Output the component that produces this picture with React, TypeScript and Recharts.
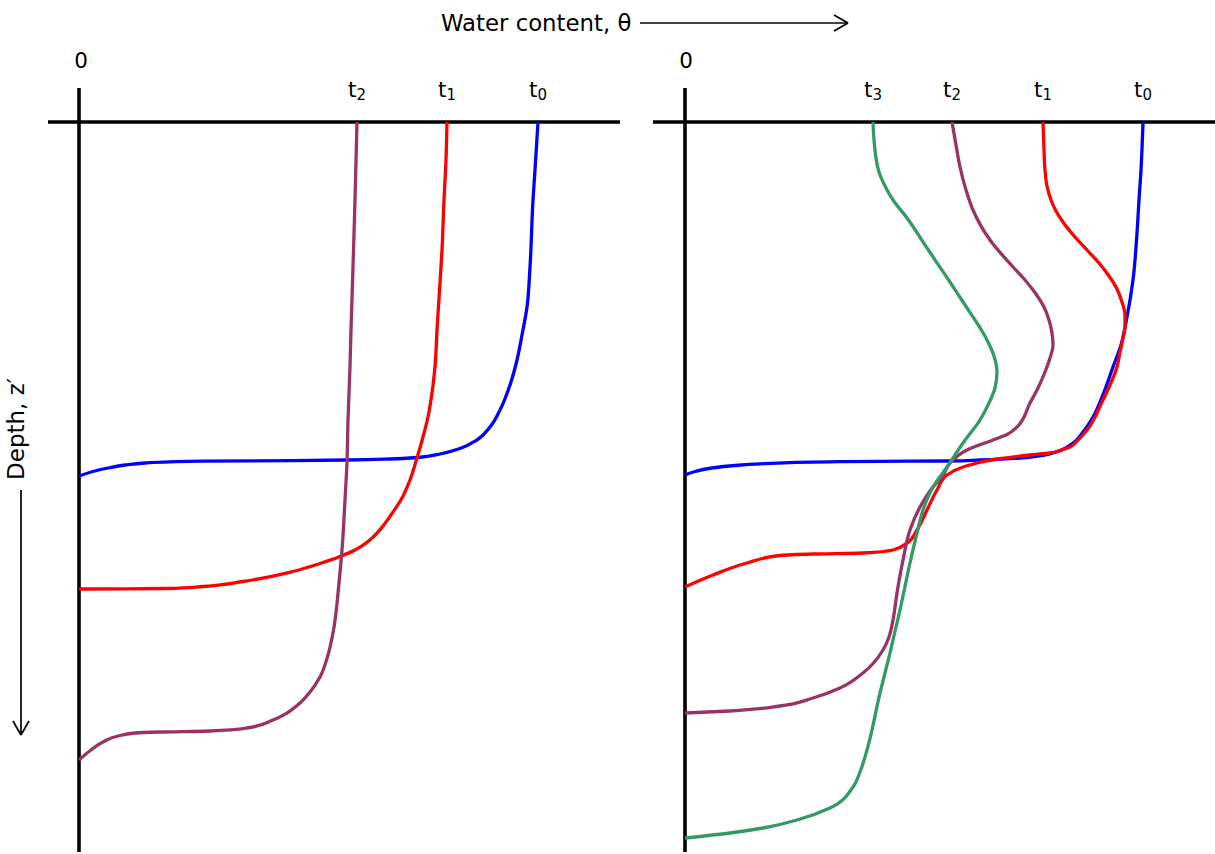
import React from 'react';
import { LineChart, Line, XAxis, YAxis, ReferenceLine, ReferenceDot } from 'recharts';

// water content theta (fraction) vs depth z (cm)
const leftT0 = [
  { theta: 0.459, z: 0 }, { theta: 0.456, z: 4.8 }, { theta: 0.454, z: 7.8 }, { theta: 0.451, z: 14.5 },
  { theta: 0.448, z: 18.5 }, { theta: 0.443, z: 21.3 }, { theta: 0.438, z: 23.8 }, { theta: 0.431, z: 26.3 },
  { theta: 0.421, z: 28.8 }, { theta: 0.411, z: 30.5 }, { theta: 0.398, z: 31.8 }, { theta: 0.381, z: 32.65 },
  { theta: 0.361, z: 33.2 }, { theta: 0.338, z: 33.55 }, { theta: 0.311, z: 33.7 }, { theta: 0.268, z: 33.8 },
  { theta: 0.214, z: 33.86 }, { theta: 0.124, z: 33.92 }, { theta: 0.091, z: 33.98 }, { theta: 0.066, z: 34.1 },
  { theta: 0.046, z: 34.3 }, { theta: 0.029, z: 34.6 }, { theta: 0.014, z: 34.95 }, { theta: 0.0, z: 35.4 },
];
const leftT1 = [
  { theta: 0.368, z: 0 }, { theta: 0.367, z: 3.8 }, { theta: 0.365, z: 7.8 }, { theta: 0.363, z: 12.8 },
  { theta: 0.361, z: 16.1 }, { theta: 0.358, z: 20.8 }, { theta: 0.356, z: 24.5 }, { theta: 0.352, z: 27.8 },
  { theta: 0.349, z: 29.5 }, { theta: 0.344, z: 31.5 }, { theta: 0.338, z: 33.6 }, { theta: 0.331, z: 35.8 },
  { theta: 0.323, z: 37.6 }, { theta: 0.314, z: 39.0 }, { theta: 0.304, z: 40.4 }, { theta: 0.292, z: 41.7 },
  { theta: 0.277, z: 42.75 }, { theta: 0.261, z: 43.45 }, { theta: 0.241, z: 44.15 }, { theta: 0.214, z: 44.95 },
  { theta: 0.164, z: 45.95 }, { theta: 0.124, z: 46.45 }, { theta: 0.088, z: 46.65 }, { theta: 0.048, z: 46.68 },
  { theta: 0.0, z: 46.7 },
];
const leftT2 = [
  { theta: 0.278, z: 0 }, { theta: 0.276, z: 7.8 }, { theta: 0.274, z: 14.5 }, { theta: 0.272, z: 20.8 },
  { theta: 0.271, z: 24.5 }, { theta: 0.269, z: 29.8 }, { theta: 0.268, z: 34.0 }, { theta: 0.266, z: 37.8 },
  { theta: 0.263, z: 42.8 }, { theta: 0.26, z: 46.1 }, { theta: 0.254, z: 51.1 }, { theta: 0.249, z: 53.3 },
  { theta: 0.241, z: 55.5 }, { theta: 0.231, z: 57.0 }, { theta: 0.221, z: 58.1 }, { theta: 0.208, z: 59.1 },
  { theta: 0.194, z: 59.8 }, { theta: 0.168, z: 60.6 }, { theta: 0.131, z: 60.9 }, { theta: 0.081, z: 61.0 },
  { theta: 0.056, z: 61.1 }, { theta: 0.039, z: 61.4 }, { theta: 0.024, z: 62.0 }, { theta: 0.012, z: 62.8 },
  { theta: 0.0, z: 63.8 },
];
const rightT0 = [
  { theta: 0.458, z: 0 }, { theta: 0.456, z: 4.8 }, { theta: 0.454, z: 7.8 }, { theta: 0.452, z: 11.1 },
  { theta: 0.448, z: 15.8 }, { theta: 0.442, z: 19.5 }, { theta: 0.436, z: 22.3 }, { theta: 0.428, z: 24.5 },
  { theta: 0.419, z: 27.0 }, { theta: 0.408, z: 29.5 }, { theta: 0.398, z: 31.0 }, { theta: 0.388, z: 32.1 },
  { theta: 0.368, z: 33.1 }, { theta: 0.335, z: 33.6 }, { theta: 0.295, z: 33.8 }, { theta: 0.262, z: 33.9 },
  { theta: 0.195, z: 33.93 }, { theta: 0.145, z: 33.98 }, { theta: 0.105, z: 34.06 }, { theta: 0.075, z: 34.18 },
  { theta: 0.05, z: 34.35 }, { theta: 0.027, z: 34.6 }, { theta: 0.01, z: 34.95 }, { theta: 0.0, z: 35.3 },
];
const rightT1 = [
  { theta: 0.358, z: 0 }, { theta: 0.359, z: 2.8 }, { theta: 0.36, z: 4.8 }, { theta: 0.362, z: 6.4 },
  { theta: 0.366, z: 7.8 }, { theta: 0.371, z: 8.9 }, { theta: 0.378, z: 10.0 }, { theta: 0.39, z: 11.5 },
  { theta: 0.402, z: 12.8 }, { theta: 0.414, z: 14.1 }, { theta: 0.424, z: 15.4 }, { theta: 0.432, z: 16.7 },
  { theta: 0.437, z: 18.0 }, { theta: 0.44, z: 19.3 }, { theta: 0.44, z: 20.5 }, { theta: 0.438, z: 21.6 },
  { theta: 0.435, z: 23.0 }, { theta: 0.432, z: 24.5 }, { theta: 0.425, z: 26.3 }, { theta: 0.418, z: 27.8 },
  { theta: 0.402, z: 30.8 }, { theta: 0.393, z: 31.8 }, { theta: 0.385, z: 32.5 }, { theta: 0.375, z: 32.85 },
  { theta: 0.365, z: 33.1 }, { theta: 0.345, z: 33.3 }, { theta: 0.312, z: 33.7 }, { theta: 0.278, z: 34.5 },
  { theta: 0.262, z: 35.3 }, { theta: 0.252, z: 36.8 }, { theta: 0.242, z: 38.8 }, { theta: 0.232, z: 40.8 },
  { theta: 0.222, z: 42.1 }, { theta: 0.208, z: 42.8 }, { theta: 0.178, z: 43.1 }, { theta: 0.128, z: 43.2 },
  { theta: 0.095, z: 43.35 }, { theta: 0.062, z: 44.1 }, { theta: 0.028, z: 45.3 }, { theta: 0.0, z: 46.5 },
];
const rightT2 = [
  { theta: 0.267, z: 0 }, { theta: 0.271, z: 2.3 }, { theta: 0.275, z: 4.5 }, { theta: 0.281, z: 6.8 },
  { theta: 0.288, z: 8.8 }, { theta: 0.305, z: 11.8 }, { theta: 0.328, z: 14.5 }, { theta: 0.34, z: 15.8 },
  { theta: 0.351, z: 17.2 }, { theta: 0.359, z: 18.5 }, { theta: 0.364, z: 19.8 }, { theta: 0.367, z: 21.1 },
  { theta: 0.368, z: 22.3 }, { theta: 0.365, z: 23.6 }, { theta: 0.36, z: 25.0 }, { theta: 0.353, z: 26.6 },
  { theta: 0.345, z: 28.1 }, { theta: 0.332, z: 30.5 }, { theta: 0.322, z: 31.25 }, { theta: 0.308, z: 31.8 },
  { theta: 0.282, z: 32.8 }, { theta: 0.265, z: 34.1 }, { theta: 0.257, z: 35.5 }, { theta: 0.248, z: 36.5 },
  { theta: 0.235, z: 38.5 }, { theta: 0.225, z: 40.8 }, { theta: 0.218, z: 43.8 }, { theta: 0.212, z: 47.1 },
  { theta: 0.208, z: 49.8 }, { theta: 0.204, z: 51.5 }, { theta: 0.198, z: 52.8 }, { theta: 0.178, z: 55.1 },
  { theta: 0.155, z: 56.6 }, { theta: 0.128, z: 57.6 }, { theta: 0.095, z: 58.4 }, { theta: 0.045, z: 58.9 },
  { theta: 0.0, z: 59.1 },
];
const rightT3 = [
  { theta: 0.188, z: 0 }, { theta: 0.189, z: 1.8 }, { theta: 0.191, z: 3.6 }, { theta: 0.194, z: 5.0 },
  { theta: 0.2, z: 6.4 }, { theta: 0.208, z: 7.8 }, { theta: 0.222, z: 9.6 }, { theta: 0.242, z: 12.6 },
  { theta: 0.265, z: 16.0 }, { theta: 0.28, z: 18.3 }, { theta: 0.292, z: 20.1 }, { theta: 0.302, z: 21.8 },
  { theta: 0.309, z: 23.4 }, { theta: 0.312, z: 25.0 }, { theta: 0.31, z: 26.6 }, { theta: 0.304, z: 28.1 },
  { theta: 0.295, z: 29.8 }, { theta: 0.278, z: 32.1 }, { theta: 0.262, z: 34.5 }, { theta: 0.248, z: 36.5 },
  { theta: 0.238, z: 38.8 }, { theta: 0.232, z: 41.1 }, { theta: 0.225, z: 44.1 }, { theta: 0.215, z: 48.8 },
  { theta: 0.205, z: 53.1 }, { theta: 0.195, z: 57.1 }, { theta: 0.182, z: 62.8 }, { theta: 0.175, z: 65.0 },
  { theta: 0.168, z: 66.5 }, { theta: 0.145, z: 68.6 }, { theta: 0.112, z: 69.8 }, { theta: 0.078, z: 70.6 },
  { theta: 0.045, z: 71.1 }, { theta: 0.0, z: 71.6 },
];

const COLORS = { t0: '#0000ff', t1: '#ff0000', t2: '#993366', t3: '#339966' };

const leftSeries = [
  { name: 't0', data: leftT0 },
  { name: 't1', data: leftT1 },
  { name: 't2', data: leftT2 },
];
const rightSeries = [
  { name: 't0', data: rightT0 },
  { name: 't1', data: rightT1 },
  { name: 't2', data: rightT2 },
  { name: 't3', data: rightT3 },
];

const FONT = 'DejaVu Sans, Verdana, sans-serif';

const makeTLabel = (name: string) => (props: any) => {
  const vb = props.viewBox || {};
  return (
    <text x={vb.x} y={vb.y} textAnchor="middle" dominantBaseline="central" fontFamily={FONT} fontSize={21.5} fill="#000">
      {name[0]}
      <tspan fontSize={15} dy={6}>{name.slice(1)}</tspan>
    </text>
  );
};

const makeText = (value: string, anchor: string, size: number, rotate = false) => (props: any) => {
  const vb = props.viewBox || {};
  return (
    <text
      x={vb.x}
      y={vb.y}
      textAnchor={anchor}
      dominantBaseline="central"
      fontFamily={FONT}
      fontSize={size}
      fill="#000"
      transform={rotate ? `rotate(-90 ${vb.x} ${vb.y})` : undefined}
    >
      {value}
    </text>
  );
};

const AX = { stroke: '#000', strokeWidth: 3.6 };
const AR = { stroke: '#000', strokeWidth: 1.7 };

export default function App() {
  return (
    <div style={{ position: 'absolute', left: 0, top: 0, background: '#fff' }}>
      <LineChart width={1215} height={854} margin={{ top: 0, right: 0, bottom: 0, left: 0 }}>
        <XAxis xAxisId="L" type="number" dataKey="theta" domain={[-0.079, 1.136]} allowDataOverflow hide />
        <XAxis xAxisId="R" type="number" dataKey="theta" domain={[-0.685, 0.53]} allowDataOverflow hide />
        <YAxis type="number" dataKey="z" domain={[-12.2, 73.2]} reversed allowDataOverflow hide />

        {/* left panel axes */}
        <ReferenceLine xAxisId="L" segment={[{ x: 0, y: -3.4 }, { x: 0, y: 73 }]} {...AX} />
        <ReferenceLine xAxisId="L" segment={[{ x: -0.031, y: 0 }, { x: 0.541, y: 0 }]} {...AX} />
        {/* right panel axes */}
        <ReferenceLine xAxisId="R" segment={[{ x: 0, y: -3.4 }, { x: 0, y: 73 }]} {...AX} />
        <ReferenceLine xAxisId="R" segment={[{ x: -0.032, y: 0 }, { x: 0.53, y: 0 }]} {...AX} />

        {/* theta arrow */}
        <ReferenceLine xAxisId="L" segment={[{ x: 0.561, y: -9.9 }, { x: 0.769, y: -9.9 }]} {...AR} />
        <ReferenceLine xAxisId="L" segment={[{ x: 0.755, y: -10.7 }, { x: 0.769, y: -9.9 }]} {...AR} />
        <ReferenceLine xAxisId="L" segment={[{ x: 0.755, y: -9.1 }, { x: 0.769, y: -9.9 }]} {...AR} />
        {/* depth arrow */}
        <ReferenceLine xAxisId="L" segment={[{ x: -0.058, y: 36.8 }, { x: -0.058, y: 61.3 }]} {...AR} />
        <ReferenceLine xAxisId="L" segment={[{ x: -0.066, y: 59.9 }, { x: -0.058, y: 61.3 }]} {...AR} />
        <ReferenceLine xAxisId="L" segment={[{ x: -0.05, y: 59.9 }, { x: -0.058, y: 61.3 }]} {...AR} />

        {leftSeries.map((s) => (
          <Line
            key={'L' + s.name}
            xAxisId="L"
            data={s.data}
            dataKey="z"
            type="monotoneY"
            stroke={COLORS[s.name as keyof typeof COLORS]}
            strokeWidth={3.3}
            dot={false}
            activeDot={false}
            isAnimationActive={false}
          />
        ))}
        {rightSeries.map((s) => (
          <Line
            key={'R' + s.name}
            xAxisId="R"
            data={s.data}
            dataKey="z"
            type="monotoneY"
            stroke={COLORS[s.name as keyof typeof COLORS]}
            strokeWidth={3.3}
            dot={false}
            activeDot={false}
            isAnimationActive={false}
          />
        ))}

        {/* labels */}
        <ReferenceDot xAxisId="L" x={0.362} y={-9.9} r={0} fill="none" stroke="none" label={{ content: makeText('Water content, θ', 'start', 22.8) }} />
        <ReferenceDot xAxisId="L" x={0.002} y={-6.2} r={0} fill="none" stroke="none" label={{ content: makeText('0', 'middle', 21.5) }} />
        <ReferenceDot xAxisId="R" x={0.001} y={-6.2} r={0} fill="none" stroke="none" label={{ content: makeText('0', 'middle', 21.5) }} />
        <ReferenceDot xAxisId="L" x={-0.063} y={30.7} r={0} fill="none" stroke="none" label={{ content: makeText('Depth, z′', 'middle', 23, true) }} />
        {leftSeries.map((s) => (
          <ReferenceDot key={'lbL' + s.name} xAxisId="L" x={s.data[0].theta} y={-3.3} r={0} fill="none" stroke="none" label={{ content: makeTLabel(s.name) }} />
        ))}
        {rightSeries.map((s) => (
          <ReferenceDot key={'lbR' + s.name} xAxisId="R" x={s.data[0].theta} y={-3.3} r={0} fill="none" stroke="none" label={{ content: makeTLabel(s.name) }} />
        ))}
      </LineChart>
    </div>
  );
}
